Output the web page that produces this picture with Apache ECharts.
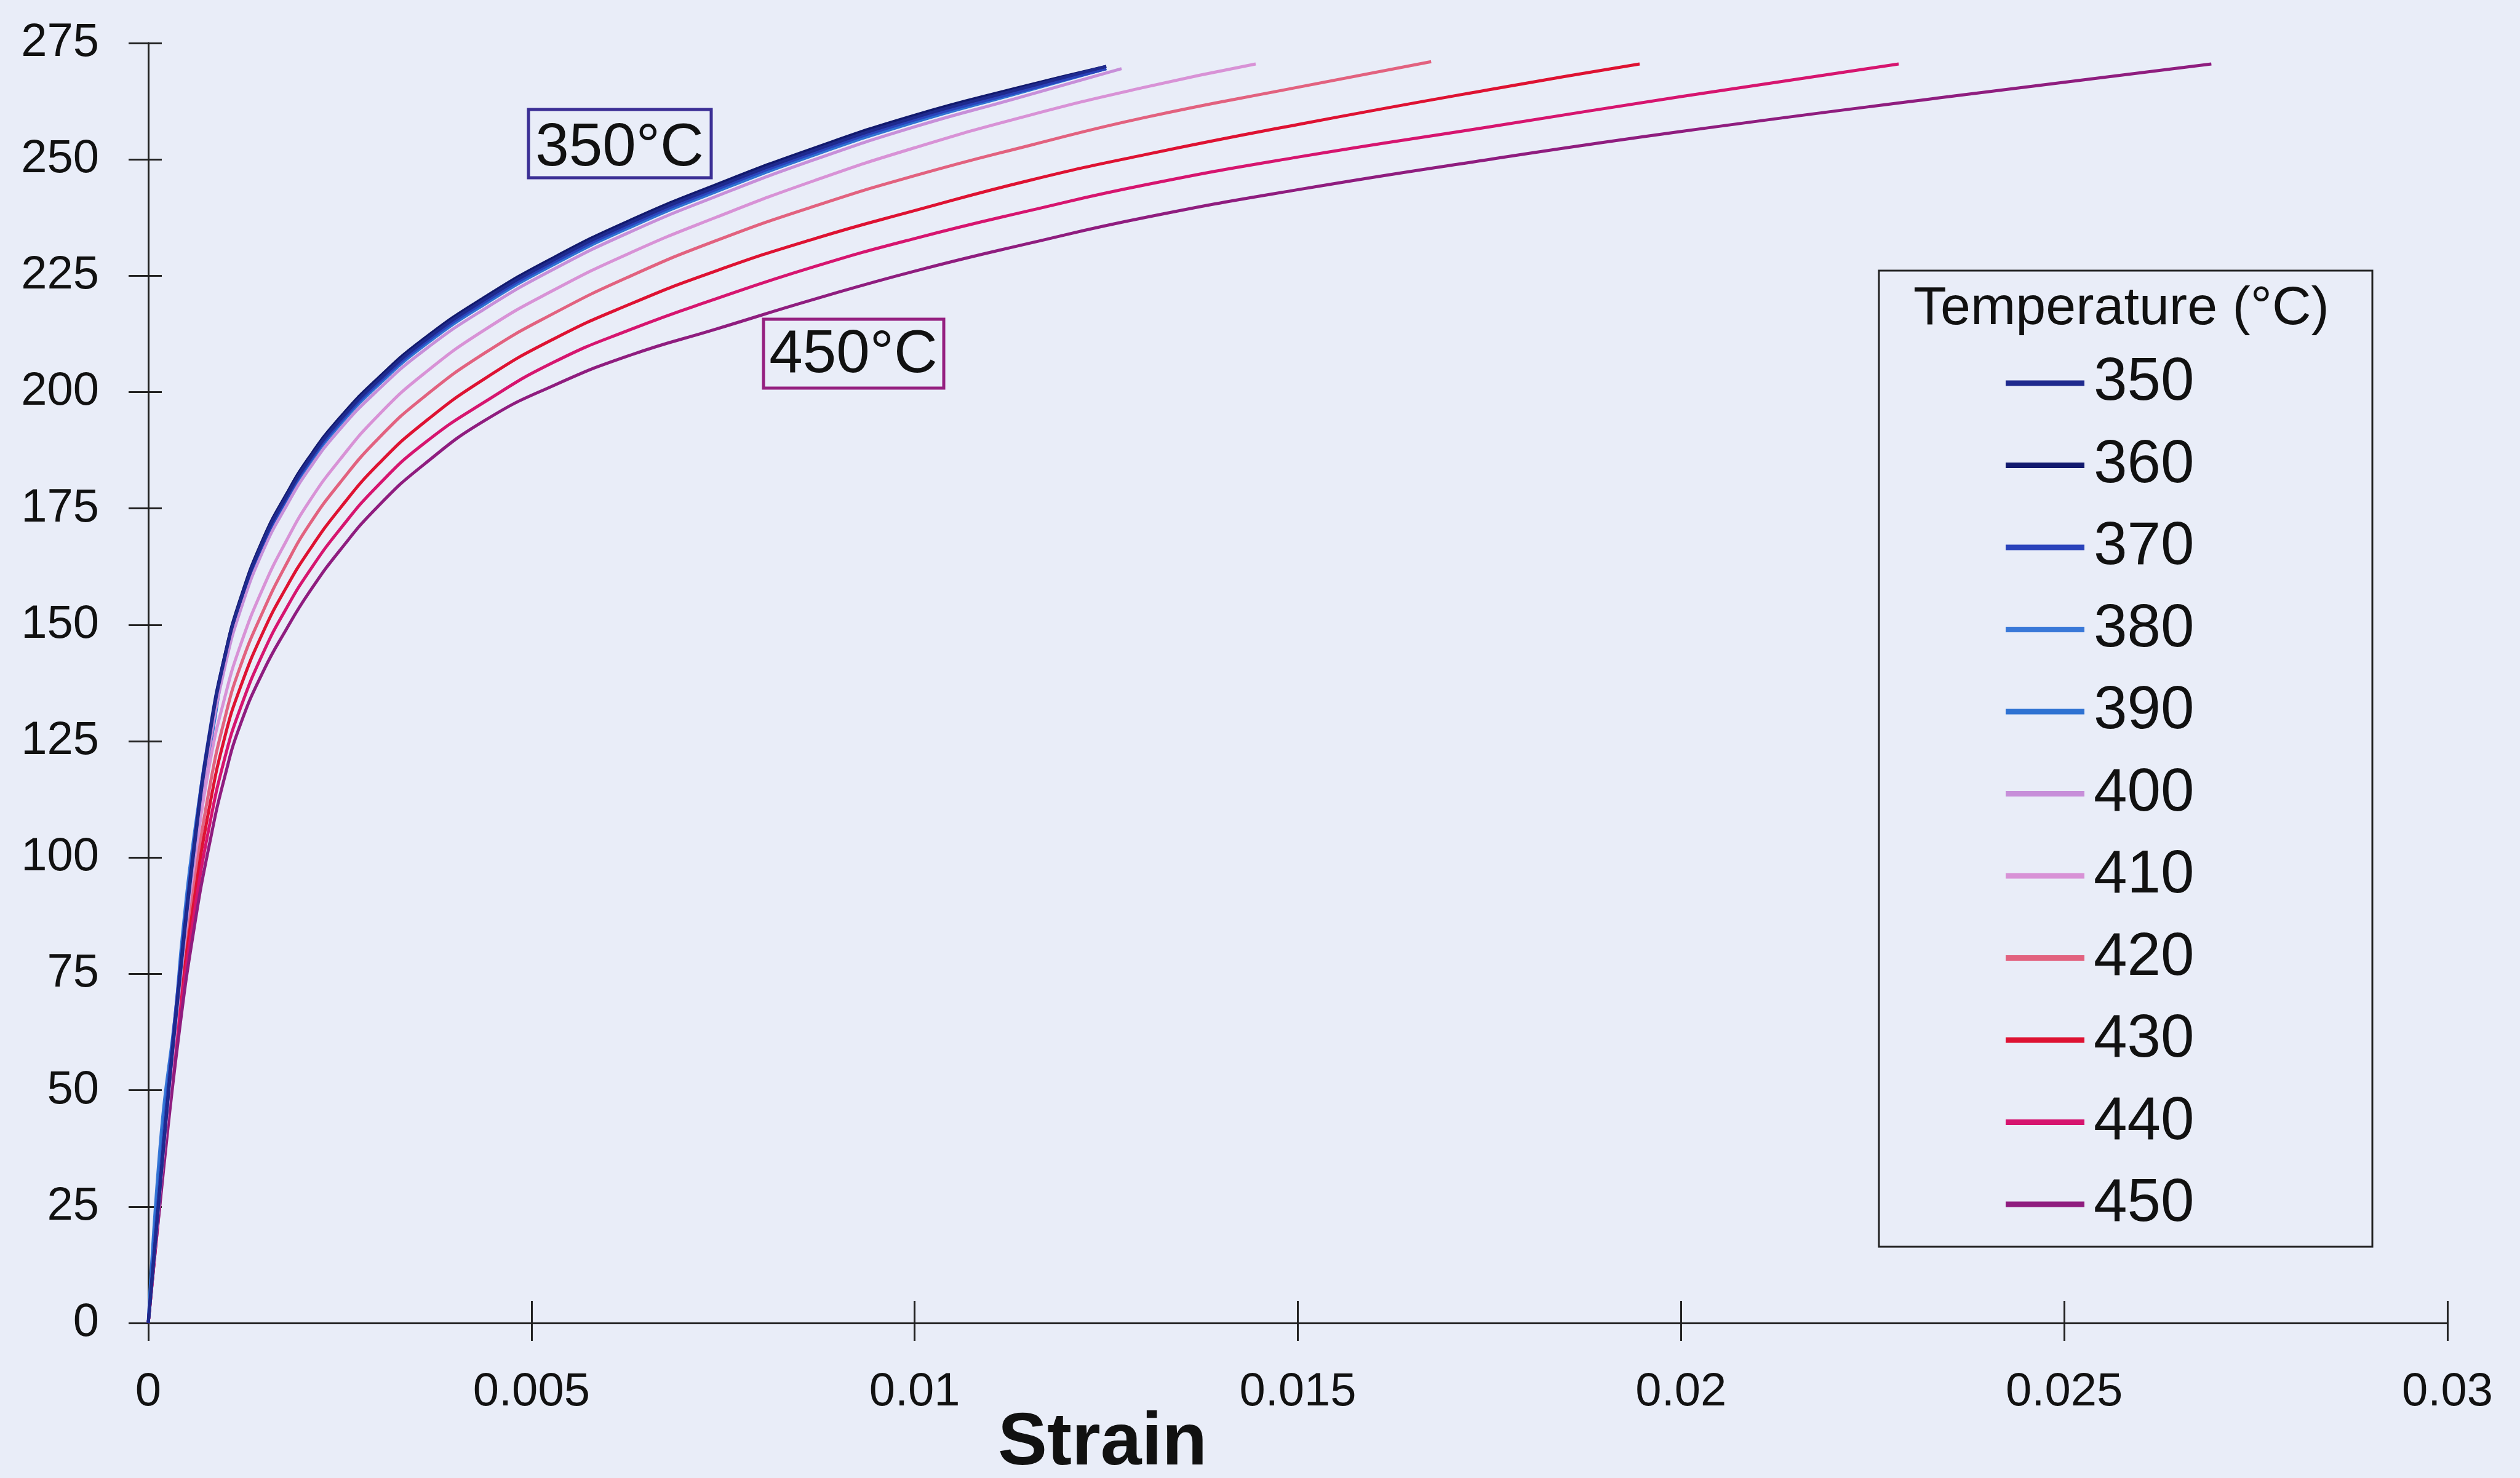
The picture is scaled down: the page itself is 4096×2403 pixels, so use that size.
<!DOCTYPE html>
<html>
<head>
<meta charset="utf-8">
<title>Stress-strain curves 350-450 °C</title>
<script src="https://cdn.jsdelivr.net/npm/echarts@6/dist/echarts.min.js"></script>
<style>
html, body { margin: 0; padding: 0; background: #e9edf8; }
#chart { width: 4096px; height: 2403px; }
</style>
</head>
<body>
<div id="chart"></div>
<script>
// temperatures (legend entries) and line colours
const temperatures = ['350', '360', '370', '380', '390', '400', '410', '420', '430', '440', '450'];
const lineColors = ['#1f2a8e', '#121a6e', '#2a43bb', '#3978d8', '#2f72d2', '#c78fd9',
                    '#d892d6', '#e2627f', '#de1232', '#d6156f', '#8f1d7f'];

const xTickLabels = ['0', '0.005', '0.01', '0.015', '0.02', '0.025', '0.03'];

// [strain, stress]
const curve350 = [[0,0],[0.0002,38],[0.0004,72],[0.0006,102],[0.0008,126],[0.001,143],[0.0012,155],[0.0015,168],[0.0018,177.5],[0.0021,185.5],[0.0025,194],[0.003,202.5],[0.0036,211],[0.0044,220],[0.0053,228.5],[0.0063,236.5],[0.0074,244],[0.0087,252],[0.01,259],[0.0113,264.8],[0.0125,270]];
const curve360 = [[0,0],[0.0002,38],[0.0004,72.5],[0.0006,102.5],[0.0008,126.5],[0.001,143.5],[0.0012,155.5],[0.0015,168.5],[0.0018,178],[0.0021,186],[0.0025,194.5],[0.003,203],[0.0036,211.5],[0.0044,220.5],[0.0053,229],[0.0063,237],[0.0074,244.5],[0.0087,252.5],[0.01,259.5],[0.0113,265.2],[0.0125,270]];
const curve370 = [[0,0],[0.0002,40],[0.0004,74],[0.0006,103.5],[0.0008,127],[0.001,143.5],[0.0012,155],[0.0015,167.5],[0.0018,177],[0.0021,185],[0.0025,193.5],[0.003,202],[0.0036,210.5],[0.0044,219.5],[0.0053,228],[0.0063,236],[0.0074,243.5],[0.0087,251.5],[0.01,258.5],[0.0113,264.3],[0.0125,269.5]];
const curve380 = [[0,0],[0.00017,41],[0.00035,66],[0.00045,84],[0.0006,105],[0.00085,131],[0.001,142.5],[0.0012,154.5],[0.0015,167.5],[0.0018,177],[0.0021,185],[0.0025,193.5],[0.003,202],[0.0036,210.5],[0.0044,219.5],[0.0053,228],[0.0063,236],[0.0074,243.5],[0.0087,251.5],[0.01,258.5],[0.0113,264.3],[0.0125,269.5]];
const curve390 = [[0,0],[0.00018,40],[0.00036,65],[0.00046,83],[0.00062,104],[0.00087,130],[0.001,142],[0.0012,154],[0.0015,167],[0.0018,176.5],[0.0021,184.5],[0.0025,193],[0.003,201.5],[0.0036,210],[0.0044,219],[0.0053,227.5],[0.0063,235.5],[0.0074,243],[0.0087,251],[0.01,258],[0.0113,264],[0.0125,269.5]];
const curve400 = [[0,0],[0.0002,37],[0.0004,70.5],[0.0006,100],[0.0008,124],[0.001,141],[0.0012,153],[0.0015,166],[0.0018,175.5],[0.0021,183.5],[0.0025,192],[0.003,200.5],[0.0036,209],[0.0044,218],[0.0053,226.5],[0.0063,234.5],[0.0074,242],[0.0087,250],[0.01,257],[0.0113,263],[0.0127,269.5]];
const curve410 = [[0,0],[0.0002,37],[0.0004,70],[0.0006,98],[0.0008,120],[0.001,134.5],[0.0012,145.5],[0.0015,158],[0.0018,168],[0.0021,176.5],[0.0025,185.5],[0.003,195],[0.0036,204],[0.0044,213.5],[0.0053,222],[0.0063,230],[0.0074,237.5],[0.0087,245.5],[0.01,252.5],[0.0115,259.5],[0.013,265.5],[0.01445,270.5]];
const curve420 = [[0,0],[0.0002,36],[0.0004,68],[0.0006,94],[0.0008,115],[0.001,130],[0.0012,141],[0.0015,153],[0.0018,163],[0.0021,171.5],[0.0025,180.5],[0.003,190],[0.0036,199],[0.0044,208.5],[0.0053,217],[0.0063,225],[0.0074,232.5],[0.0087,240],[0.01,246.5],[0.0115,253],[0.013,259],[0.015,265.5],[0.01674,271]];
const curve430 = [[0,0],[0.0002,35],[0.0004,66],[0.0006,91],[0.0008,111],[0.001,126],[0.0012,136.5],[0.0015,148.5],[0.0018,158],[0.0021,166],[0.0025,175],[0.003,184.5],[0.0036,193.5],[0.0044,203],[0.0053,211.5],[0.0063,219],[0.0074,226],[0.0087,233],[0.01,239],[0.0115,245.5],[0.013,251],[0.015,257.5],[0.0175,265],[0.01946,270.5]];
const curve440 = [[0,0],[0.0002,34],[0.0004,64],[0.0006,88],[0.0008,107],[0.001,121.5],[0.0012,132],[0.0015,144],[0.0018,153.5],[0.0021,161.5],[0.0025,170.5],[0.003,180],[0.0036,189],[0.0044,198],[0.0053,206.5],[0.0063,213.5],[0.0074,220],[0.0087,227],[0.01,233],[0.0115,239],[0.013,244.5],[0.015,250.5],[0.0175,257],[0.02,263.5],[0.02284,270.5]];
const curve450 = [[0,0],[0.0002,33],[0.0004,62],[0.0006,85],[0.0008,103],[0.001,117.5],[0.0012,128.5],[0.0015,140],[0.0018,149],[0.0021,157],[0.0025,166],[0.003,175.5],[0.0036,184.5],[0.0044,194],[0.0053,201.5],[0.0063,208],[0.0074,213.5],[0.0087,220],[0.01,226],[0.0115,232],[0.013,237.5],[0.015,243.5],[0.0175,250],[0.02,256],[0.0235,263.5],[0.02692,270.5]];

const curves = [curve350, curve360, curve370, curve380, curve390, curve400,
                curve410, curve420, curve430, curve440, curve450];
// the dark 350/360 lines sit on top of the bundle
const zOrder = [6, 5, 4, 2, 2, 3, 2, 2, 2, 2, 2];

const fontFamily = 'Liberation Sans';
const axisColor = '#222';

const chart = echarts.init(document.getElementById('chart'));

const option = {
    backgroundColor: '#e9edf8',
    animation: false,
    grid: { left: 241, right: 118, top: 70, bottom: 252, containLabel: false },
    xAxis: [
        {
            type: 'value', min: 0, max: 0.03, interval: 0.005, position: 'bottom',
            axisLine: { show: true, onZero: false, lineStyle: { color: axisColor, width: 3 } },
            axisTick: { show: true, inside: false, length: 29, lineStyle: { color: axisColor, width: 3 } },
            axisLabel: {
                margin: 75, fontSize: 76, color: '#111', fontFamily: fontFamily,
                formatter: v => xTickLabels[Math.round(v / 0.005)]
            },
            splitLine: { show: false }
        },
        {
            // inner half of the crossing ticks
            type: 'value', min: 0, max: 0.03, interval: 0.005, position: 'bottom',
            axisLine: { show: false },
            axisTick: { show: true, inside: true, length: 36, lineStyle: { color: axisColor, width: 3 } },
            axisLabel: { show: false },
            splitLine: { show: false }
        },
        {
            // top frame
            type: 'value', min: 0, max: 0.03, position: 'top',
            axisLine: { show: true, lineStyle: { color: axisColor, width: 3 } },
            axisTick: { show: false }, axisLabel: { show: false }, splitLine: { show: false }
        }
    ],
    yAxis: [
        {
            type: 'value', min: 0, max: 275, interval: 25, position: 'left',
            axisLine: { show: true, onZero: false, lineStyle: { color: axisColor, width: 3 } },
            axisTick: { show: true, inside: false, length: 32, lineStyle: { color: axisColor, width: 3 } },
            axisLabel: { margin: 80, fontSize: 76, color: '#111', fontFamily: fontFamily },
            splitLine: { show: false }
        },
        {
            type: 'value', min: 0, max: 275, interval: 25, position: 'left',
            axisLine: { show: false },
            axisTick: { show: true, inside: true, length: 22, lineStyle: { color: axisColor, width: 3 } },
            axisLabel: { show: false },
            splitLine: { show: false }
        },
        {
            // right frame
            type: 'value', min: 0, max: 275, position: 'right',
            axisLine: { show: true, lineStyle: { color: axisColor, width: 3 } },
            axisTick: { show: false }, axisLabel: { show: false }, splitLine: { show: false }
        }
    ],
    legend: {
        orient: 'vertical',
        left: 3260,
        top: 573,
        padding: 0,
        itemGap: 33.5,
        itemWidth: 128,
        itemHeight: 9,
        icon: 'rect',
        selectedMode: false,
        data: temperatures,
        textStyle: { fontSize: 98, lineHeight: 100, color: '#111', fontFamily: fontFamily, padding: [0, 0, 0, 10] }
    },
    graphic: [
        {
            type: 'rect', shape: { x: 3054, y: 440, width: 802, height: 1587 },
            style: { fill: 'none', stroke: axisColor, lineWidth: 3 }
        },
        {
            type: 'text', x: 3448, y: 503,
            style: { text: 'Temperature (°C)', fontSize: 88, fontFamily: fontFamily, fill: '#111',
                     textAlign: 'center', textVerticalAlign: 'middle', align: 'center', verticalAlign: 'middle' }
        },
        {
            type: 'rect', shape: { x: 859, y: 178, width: 297, height: 111 },
            style: { fill: 'none', stroke: '#3b2f95', lineWidth: 5 }
        },
        {
            type: 'text', x: 1007, y: 242,
            style: { text: '350°C', fontSize: 98, fontFamily: fontFamily, fill: '#111',
                     textAlign: 'center', textVerticalAlign: 'middle', align: 'center', verticalAlign: 'middle' }
        },
        {
            type: 'rect', shape: { x: 1241, y: 519, width: 293, height: 112 },
            style: { fill: 'none', stroke: '#952080', lineWidth: 5 }
        },
        {
            type: 'text', x: 1387, y: 578,
            style: { text: '450°C', fontSize: 98, fontFamily: fontFamily, fill: '#111',
                     textAlign: 'center', textVerticalAlign: 'middle', align: 'center', verticalAlign: 'middle' }
        },
        {
            type: 'text', x: 1792, y: 2348,
            style: { text: 'Strain', fontSize: 120, fontWeight: 'bold', fontFamily: fontFamily, fill: '#111',
                     textAlign: 'center', textVerticalAlign: 'middle', align: 'center', verticalAlign: 'middle' }
        }
    ],
    series: temperatures.map((t, i) => ({
        name: t,
        type: 'line',
        data: curves[i],
        xAxisIndex: 0,
        yAxisIndex: 0,
        showSymbol: false,
        symbol: 'none',
        smooth: 0.5,
        z: zOrder[i],
        itemStyle: { color: lineColors[i] },
        lineStyle: { color: lineColors[i], width: 5 }
    }))
};

chart.setOption(option);
</script>
</body>
</html>
